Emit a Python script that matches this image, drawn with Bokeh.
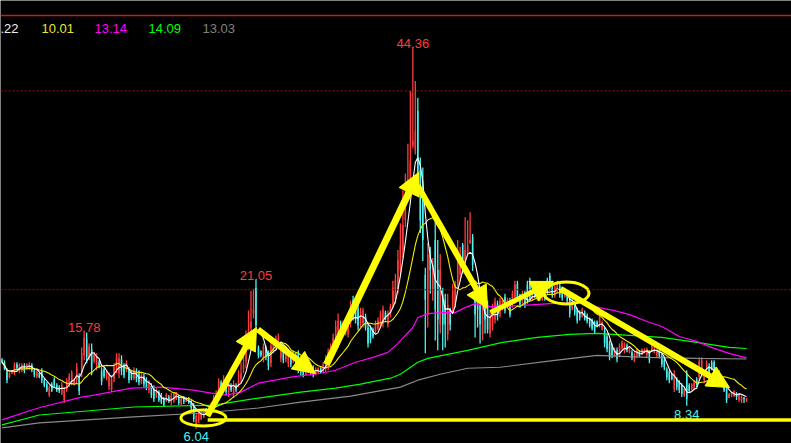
import numpy as np
import pandas as pd
from bokeh.plotting import figure
from bokeh.models import Range1d, Span, Label, Arrow, NormalHead, ColumnDataSource
from bokeh.core.properties import value
from bokeh.embed import file_html
from bokeh.resources import INLINE

# ---- daily bars (price) ----
opens = [
    13.0, 12.7, 11.8, 11.2, 11.6, 11.6, 12.5, 11.8, 11.9, 12.4, 12.0, 12.1, 12.4, 11.9, 11.3, 11.6, 11.8, 10.9, 10.5, 9.4,
    10.5, 11.0, 10.4, 10.2, 9.6, 8.9, 10.0, 10.5, 10.7, 10.5, 11.0, 11.2, 11.8, 13.4, 15.1, 13.2, 14.0, 12.8, 12.2, 12.7,
    11.8, 12.0, 11.1, 10.3, 10.0, 11.1, 12.0, 11.6, 13.0, 12.3, 11.9, 11.9, 11.7, 11.1, 11.8, 11.6, 10.7, 11.3, 10.9, 9.9,
    10.3, 10.0, 9.3, 9.7, 9.4, 9.0, 8.8, 9.2, 8.7, 8.8, 9.0, 9.2, 8.5, 9.1, 8.7, 9.1, 8.7, 8.3, 6.4, 6.9,
    7.0, 7.2, 7.9, 7.6, 7.9, 8.3, 8.8, 9.6, 10.7, 10.0, 10.6, 9.6, 10.4, 9.5, 10.4, 10.5, 11.0, 12.0, 12.8, 14.6,
    16.2, 17.6, 20.2, 14.2, 13.8, 13.0, 14.2, 13.6, 12.6, 13.8, 14.2, 14.5, 13.1, 14.0, 13.0, 12.6, 13.4, 12.8, 13.4, 13.5,
    12.6, 12.2, 11.5, 11.7, 12.0, 12.1, 11.5, 11.7, 12.1, 11.8, 12.0, 12.3, 13.1, 14.0, 14.5, 14.9, 16.7, 15.8, 15.7, 15.6,
    16.7, 19.0, 18.5, 18.1, 16.5, 16.6, 17.3, 16.2, 16.1, 16.0, 15.8, 16.1, 16.4, 16.6, 17.7, 16.5, 17.5, 18.5, 19.0, 20.0,
    22.0, 24.0, 27.0, 29.5, 31.0, 34.5, 34.0, 38.0, 32.0, 30.0, 21.5, 17.5, 23.5, 20.0, 25.0, 22.0, 16.5, 19.5, 19.0, 15.5,
    18.0, 17.8, 18.5, 20.5, 21.5, 24.5, 22.8, 23.7, 24.7, 25.3, 20.0, 19.0, 18.5, 15.5, 18.6, 18.5, 15.6, 16.3, 17.0, 18.6,
    17.5, 18.1, 19.3, 18.3, 18.9, 18.4, 19.0, 20.6, 19.3, 18.8, 19.7, 20.5, 20.8, 19.2, 20.1, 19.2, 20.0, 19.2, 20.3, 21.0,
    21.4, 20.6, 19.4, 19.8, 20.4, 20.0, 19.3, 19.7, 19.2, 18.1, 18.7, 17.9, 17.7, 17.3, 17.7, 17.4, 17.0, 16.9, 16.7, 16.8,
    16.5, 16.0, 15.9, 15.3, 14.6, 14.3, 13.4, 13.9, 13.4, 14.1, 13.8, 14.4, 13.7, 13.7, 12.9, 13.3, 13.8, 13.5, 13.7, 13.4,
    13.7, 13.8, 13.7, 13.4, 13.8, 13.3, 12.9, 12.0, 11.7, 11.5, 10.0, 11.0, 10.7, 10.4, 9.4, 11.5, 10.4, 10.0, 10.1, 11.0,
    11.2, 11.6, 10.9, 11.9, 12.3, 12.7, 12.7, 12.0, 11.7, 11.2, 10.7, 10.0, 9.1, 9.3, 9.3, 9.6, 8.9, 8.8, 9.1, 8.8,
]
highs = [
    13.1, 12.9, 12.1, 11.7, 11.9, 12.7, 12.7, 12.6, 12.6, 12.6, 12.6, 12.7, 12.6, 12.1, 11.9, 11.7, 12.1, 11.1, 10.7, 10.4,
    10.7, 11.2, 10.6, 10.4, 10.7, 10.2, 11.1, 11.6, 11.9, 11.1, 12.6, 11.6, 14.2, 15.78, 15.7, 14.6, 14.6, 13.7, 13.6, 12.9,
    12.2, 12.2, 11.9, 11.7, 11.4, 12.6, 13.6, 13.6, 13.4, 12.6, 12.9, 12.2, 11.9, 12.2, 12.1, 11.9, 11.7, 11.6, 11.2, 10.9,
    10.6, 10.4, 10.1, 9.9, 9.6, 9.2, 9.6, 9.4, 9.6, 9.7, 9.7, 9.4, 9.2, 9.3, 9.2, 9.2, 8.9, 8.6, 7.6, 7.9,
    7.7, 7.9, 8.1, 8.4, 8.7, 9.4, 9.9, 11.1, 10.9, 11.4, 10.9, 11.2, 10.6, 10.9, 10.6, 11.9, 12.7, 13.6, 15.9, 17.9,
    19.9, 20.1, 21.05, 14.4, 13.9, 14.6, 14.4, 13.9, 14.9, 14.9, 15.4, 15.6, 14.6, 14.2, 14.1, 13.9, 13.6, 13.9, 13.7, 13.9,
    12.9, 12.4, 12.4, 12.4, 12.2, 12.4, 12.2, 12.2, 12.2, 12.7, 13.4, 14.1, 14.6, 15.6, 16.9, 17.6, 16.9, 16.9, 17.1, 16.9,
    18.9, 19.4, 18.9, 18.6, 18.2, 18.2, 17.6, 16.6, 16.4, 16.2, 16.9, 17.2, 17.9, 18.4, 17.9, 17.9, 18.6, 20.9, 21.6, 24.0,
    26.7, 30.0, 31.7, 34.7, 40.0, 44.36, 41.0, 39.3, 33.3, 32.3, 22.2, 24.7, 24.3, 23.2, 27.0, 25.0, 23.6, 20.2, 19.6, 19.6,
    18.2, 20.6, 20.9, 25.0, 24.3, 24.7, 27.3, 27.0, 27.8, 25.6, 20.6, 19.6, 18.9, 19.6, 18.9, 18.9, 17.9, 18.6, 19.2, 18.9,
    19.2, 19.2, 19.6, 19.2, 19.2, 19.9, 20.9, 20.9, 19.6, 19.9, 19.9, 20.9, 21.2, 20.6, 20.2, 20.6, 20.2, 20.7, 20.6, 21.2,
    21.7, 20.9, 20.6, 20.9, 20.6, 20.2, 20.2, 19.9, 19.6, 19.2, 18.9, 18.2, 17.9, 18.2, 17.9, 17.6, 17.2, 17.1, 16.9, 16.9,
    18.2, 16.9, 16.2, 15.6, 14.9, 14.6, 14.2, 14.2, 14.6, 14.9, 14.7, 14.6, 14.2, 13.9, 13.7, 14.1, 13.9, 14.1, 14.1, 14.2,
    13.9, 14.6, 14.4, 14.1, 13.9, 13.6, 13.2, 12.2, 11.9, 11.6, 11.9, 11.2, 10.9, 10.6, 10.2, 11.9, 10.6, 10.6, 10.9, 11.2,
    13.2, 13.2, 11.9, 12.9, 12.6, 12.9, 12.9, 12.2, 11.9, 11.4, 10.9, 10.2, 9.6, 9.7, 9.9, 9.7, 9.6, 9.4, 9.2, 9.1,
]
lows = [
    12.6, 11.9, 10.6, 11.1, 11.5, 11.4, 11.9, 11.6, 11.7, 11.6, 11.9, 11.9, 11.7, 11.2, 11.1, 11.1, 10.6, 10.2, 9.7, 9.2,
    9.7, 10.2, 9.7, 9.6, 9.4, 8.6, 9.7, 10.2, 10.4, 10.4, 10.6, 9.4, 11.2, 12.9, 12.6, 12.9, 11.4, 12.6, 11.9, 12.1,
    10.4, 11.1, 10.9, 9.9, 9.7, 10.7, 11.6, 11.1, 11.4, 11.1, 11.7, 10.6, 10.9, 10.9, 10.7, 10.4, 10.5, 10.2, 9.9, 9.6,
    9.1, 8.7, 9.1, 8.7, 8.5, 8.2, 8.7, 8.6, 8.4, 8.6, 8.9, 8.4, 8.4, 8.5, 8.7, 8.5, 7.9, 6.7, 6.04, 6.6,
    6.9, 7.1, 7.4, 7.5, 7.7, 8.1, 8.6, 9.4, 9.7, 9.7, 9.4, 9.2, 9.7, 9.1, 9.7, 10.2, 10.6, 11.6, 12.1, 13.9,
    15.4, 17.1, 16.1, 13.1, 13.2, 12.7, 12.9, 11.9, 12.2, 13.6, 13.9, 14.2, 12.7, 12.6, 12.7, 12.2, 12.2, 12.6, 11.9, 11.6,
    11.4, 11.2, 11.4, 11.6, 11.4, 11.2, 11.4, 11.6, 11.6, 11.6, 11.7, 11.9, 12.7, 13.6, 13.9, 14.2, 15.6, 15.6, 15.4, 15.2,
    16.2, 16.9, 16.6, 15.9, 16.2, 16.2, 15.9, 14.2, 14.6, 15.1, 15.6, 15.9, 16.1, 16.2, 16.9, 16.2, 17.2, 18.2, 18.6, 19.6,
    21.6, 23.2, 26.3, 29.0, 30.0, 34.2, 33.6, 30.6, 25.7, 22.9, 13.6, 16.2, 19.6, 18.9, 14.9, 13.9, 15.6, 13.9, 14.2, 14.9,
    15.9, 17.6, 18.2, 20.2, 20.9, 21.6, 22.6, 23.6, 24.6, 21.9, 15.2, 16.2, 14.6, 14.9, 15.6, 15.6, 15.2, 15.9, 16.6, 16.9,
    17.2, 17.9, 17.6, 18.2, 17.2, 18.2, 18.6, 18.9, 18.2, 18.6, 18.2, 18.6, 18.9, 18.9, 19.2, 18.9, 18.9, 18.9, 18.9, 19.6,
    19.9, 19.2, 19.2, 19.6, 19.2, 18.9, 19.2, 18.6, 17.2, 17.9, 17.4, 16.6, 16.9, 17.2, 16.9, 16.6, 16.2, 15.9, 15.6, 16.2,
    16.2, 15.9, 14.2, 13.7, 12.9, 13.1, 13.2, 12.7, 13.2, 13.9, 13.6, 13.7, 13.6, 12.9, 12.7, 13.1, 13.2, 13.4, 13.6, 13.2,
    12.6, 13.7, 13.6, 13.2, 13.1, 12.2, 11.9, 10.9, 10.6, 10.9, 9.7, 9.9, 9.6, 9.2, 9.2, 8.34, 9.6, 9.9, 9.9, 10.2,
    10.9, 11.2, 10.6, 11.6, 10.9, 11.9, 11.7, 10.9, 10.9, 10.4, 9.7, 8.6, 9.1, 9.2, 9.2, 8.9, 8.7, 8.6, 8.6, 8.7,
]
closes = [
    12.7, 12.1, 10.9, 11.6, 11.9, 12.4, 12.1, 12.4, 12.4, 11.8, 12.5, 12.5, 11.9, 11.4, 11.7, 11.2, 10.9, 10.4, 9.9, 10.2,
    9.9, 10.4, 9.9, 9.8, 10.4, 9.9, 10.8, 11.3, 11.6, 11.0, 12.2, 9.8, 13.6, 15.2, 13.2, 14.3, 12.0, 13.5, 13.3, 12.3,
    10.8, 11.3, 11.7, 11.3, 11.0, 12.2, 13.2, 13.1, 11.8, 11.4, 12.7, 10.9, 11.1, 11.9, 11.0, 10.7, 11.4, 10.5, 10.2, 10.6,
    9.4, 9.0, 9.9, 8.9, 8.7, 8.4, 9.4, 8.8, 9.3, 9.5, 9.6, 8.6, 9.0, 8.7, 9.1, 8.6, 8.1, 7.0, 7.3, 7.6,
    7.5, 7.7, 7.5, 8.2, 8.5, 9.1, 9.6, 10.8, 9.9, 11.0, 9.7, 10.8, 9.9, 10.5, 9.9, 11.0, 11.6, 12.4, 13.8, 15.0,
    16.8, 18.0, 16.4, 13.4, 13.4, 14.3, 13.2, 12.3, 14.4, 14.7, 15.1, 15.3, 14.3, 12.9, 13.8, 13.6, 12.5, 13.6, 12.2, 12.0,
    11.7, 11.4, 12.2, 12.2, 11.6, 11.4, 12.0, 12.1, 11.7, 12.5, 13.1, 13.7, 14.2, 15.2, 16.3, 16.9, 15.8, 16.6, 16.8, 16.6,
    18.4, 17.3, 17.0, 16.4, 17.8, 17.9, 16.2, 14.6, 14.9, 15.3, 16.6, 16.9, 17.6, 18.0, 17.1, 17.6, 18.3, 20.2, 21.0, 23.0,
    24.5, 26.5, 29.0, 31.0, 33.0, 35.0, 36.0, 31.5, 27.0, 25.0, 19.0, 23.5, 22.0, 22.5, 18.0, 17.0, 22.0, 16.5, 16.5, 18.5,
    16.5, 20.0, 20.5, 24.0, 23.5, 21.8, 24.0, 24.5, 25.0, 22.5, 17.5, 18.0, 16.5, 19.0, 17.0, 16.0, 17.4, 18.2, 18.8, 17.3,
    18.9, 19.0, 17.9, 19.0, 17.5, 19.6, 20.5, 19.2, 18.5, 19.6, 18.5, 19.0, 19.2, 20.3, 19.4, 20.3, 19.2, 20.4, 19.2, 19.8,
    20.2, 19.5, 20.3, 20.6, 19.5, 19.2, 20.0, 18.9, 17.6, 18.9, 17.7, 16.9, 17.1, 18.0, 17.1, 16.8, 16.4, 16.1, 15.8, 16.4,
    17.8, 16.7, 14.6, 14.0, 13.2, 13.4, 14.0, 13.0, 14.3, 14.7, 14.5, 13.9, 14.1, 13.1, 13.5, 13.9, 13.3, 14.0, 14.0, 14.0,
    12.9, 14.4, 14.2, 13.9, 13.3, 12.5, 12.2, 11.2, 10.9, 11.0, 11.5, 10.2, 9.9, 9.5, 10.0, 9.0, 9.8, 10.5, 10.7, 10.4,
    12.8, 12.9, 11.6, 12.6, 11.2, 12.1, 11.7, 11.0, 11.0, 10.5, 9.9, 8.9, 9.5, 9.6, 9.8, 9.2, 9.5, 9.3, 9.0, 9.1,
]

# ---- longer moving averages (bar index, value) ----
mag_idx = [0, 12, 16, 32, 37, 52, 64, 77, 84, 90, 96, 103, 116, 128, 134, 142, 149, 155, 159, 165,
           167, 171, 177, 182, 186, 190, 196, 208, 220, 232, 240, 246, 252, 259, 265, 272, 279, 286, 292, 299]
mag_val = [6.9, 7.9, 8.2, 9.2, 9.4, 10.1, 10.2, 9.9, 9.6, 9.4, 9.7, 10.6, 11.2, 11.6, 11.9, 12.7, 13.2, 13.7, 14.6, 16.2,
           17.2, 17.6, 17.7, 17.7, 18.2, 18.6, 18.3, 18.4, 18.6, 18.7, 18.2, 17.9, 17.5, 16.8, 16.3, 15.3, 14.8, 14.1, 13.6, 13.14]
grn_idx = [0, 15, 53, 85, 103, 120, 134, 144, 156, 160, 167, 171, 187, 201, 215, 228, 239, 252, 265, 279, 292, 299]
grn_val = [6.4, 7.4, 8.2, 8.4, 9.1, 9.7, 10.1, 10.5, 11.1, 11.5, 12.7, 13.1, 13.9, 14.7, 15.2, 15.5, 15.6, 15.4, 15.2, 14.7, 14.2, 14.09]
gry_idx = [0, 15, 53, 80, 103, 120, 140, 160, 167, 176, 187, 200, 222, 239, 259, 279, 299]
gry_val = [6.1, 6.6, 7.2, 7.6, 8.1, 8.7, 9.3, 10.2, 10.9, 11.5, 12.1, 12.2, 12.9, 13.4, 13.2, 13.1, 13.03]

UP = "#ff3c3c"
DOWN = "#4cf2f2"
YEL = "#ffff00"
FONT = "Liberation Sans"

o = np.array(opens)
h = np.array(highs)
l = np.array(lows)
c = np.array(closes)
idx = np.arange(len(c))
up = c >= o

s = pd.Series(c)
ma5 = s.rolling(5, min_periods=1).mean().to_numpy()
ma15 = s.rolling(15, min_periods=1).mean().to_numpy()

p = figure(width=791, height=443, output_backend="svg", toolbar_location=None,
           x_range=Range1d(-0.6, 317.07), y_range=Range1d(4.53, 49.10),
           x_axis_location=None, y_axis_location=None, min_border=0,
           background_fill_color="black", border_fill_color="black",
           outline_line_color=None)
p.xgrid.visible = False
p.ygrid.visible = False

# price grid and pane border
for lvl in (20, 40):
    p.add_layout(Span(location=lvl, dimension="width", line_color="#b00000",
                      line_dash="2 2", line_width=1))
p.add_layout(Span(location=47.6, dimension="width", line_color="#c02020", line_width=1.5))

# candles
for mask, col in ((up, UP), (~up, DOWN)):
    src = ColumnDataSource(dict(x=idx[mask], hi=h[mask], lo=l[mask],
                                top=np.maximum(o, c)[mask], bot=np.minimum(o, c)[mask]))
    p.segment(x0="x", y0="hi", x1="x", y1="lo", source=src, line_color=col, line_width=1.3)
    p.vbar(x="x", width=0.6, top="top", bottom="bot", source=src,
           fill_color=col, line_color=None)

# moving averages
p.line(gry_idx, gry_val, line_color="#8a8a8a", line_width=1.2)
p.line(grn_idx, grn_val, line_color="#00ff00", line_width=1.2)
p.line(mag_idx, mag_val, line_color="#ff00ff", line_width=1.2)
p.line(idx, ma15, line_color="#f0f000", line_width=1.1)
p.line(idx, ma5, line_color="#ffffff", line_width=1.1)

# extreme price labels
hi_windows = [(0, 60), (60, 140), (140, 300)]
lo_windows = [(60, 140), (240, 300)]
hx = [a + int(np.argmax(h[a:b])) for a, b in hi_windows]
lx = [a + int(np.argmin(l[a:b])) for a, b in lo_windows]
p.text(x=hx, y=list(h[hx]), text=[f"{v:.2f}" for v in h[hx]], text_color=UP,
       text_align="center", text_baseline="alphabetic", y_offset=-4,
       text_font=value(FONT), text_font_size=value("13px"))
p.text(x=lx, y=list(l[lx]), text=[f"{v:.2f}" for v in l[lx]], text_color=DOWN,
       text_align="center", text_baseline="top", y_offset=4,
       text_font=value(FONT), text_font_size=value("13px"))

# hand-drawn markup: support line, circles and trend arrows
p.segment(x0=[82.6], y0=[6.9], x1=[330], y1=[6.9], line_color=YEL, line_width=3.5)
p.ellipse(x=[80.9, 226.7], y=[7.1, 19.67], width=[18.1, 18.1], height=[1.6, 2.2],
          fill_color=None, line_color=YEL, line_width=3)
trend_arrows = [
    ((82.5, 7.3), (102.2, 16.2), 6),
    ((102.8, 16.0), (125.9, 11.57), 6),
    ((130.3, 12.48), (167.3, 31.8), 7),
    ((166.9, 30.5), (195.0, 18.1), 6),
    ((196.2, 17.7), (221.5, 20.83), 5),
    ((224.3, 20.1), (292.2, 10.16), 6),
]
for (xs, ys), (xe, ye), w in trend_arrows:
    p.add_layout(Arrow(x_start=xs, y_start=ys, x_end=xe, y_end=ye,
                       line_color=YEL, line_width=w,
                       end=NormalHead(size=22, fill_color=YEL, line_color=YEL, line_width=1)))

# last values of the averages (leading digit of the first one is cut off at the edge)
legend = [
    (0, f"{ma5[-1]:.2f}"[1:], "#f0f0f0"),
    (41, f"{ma15[-1]:.2f}", "#e8e830"),
    (94, f"{mag_val[-1]:.2f}", "#ff00ff"),
    (148, f"{grn_val[-1]:.2f}", "#00ff00"),
    (202, f"{gry_val[-1]:.2f}", "#808080"),
]
for x, txt, col in legend:
    p.add_layout(Label(x=x, y=415, x_units="screen", y_units="screen", text=txt,
                       text_color=col, text_font=FONT, text_font_size="13px",
                       text_baseline="alphabetic"))

open("out.html", "w").write(file_html(p, INLINE))
